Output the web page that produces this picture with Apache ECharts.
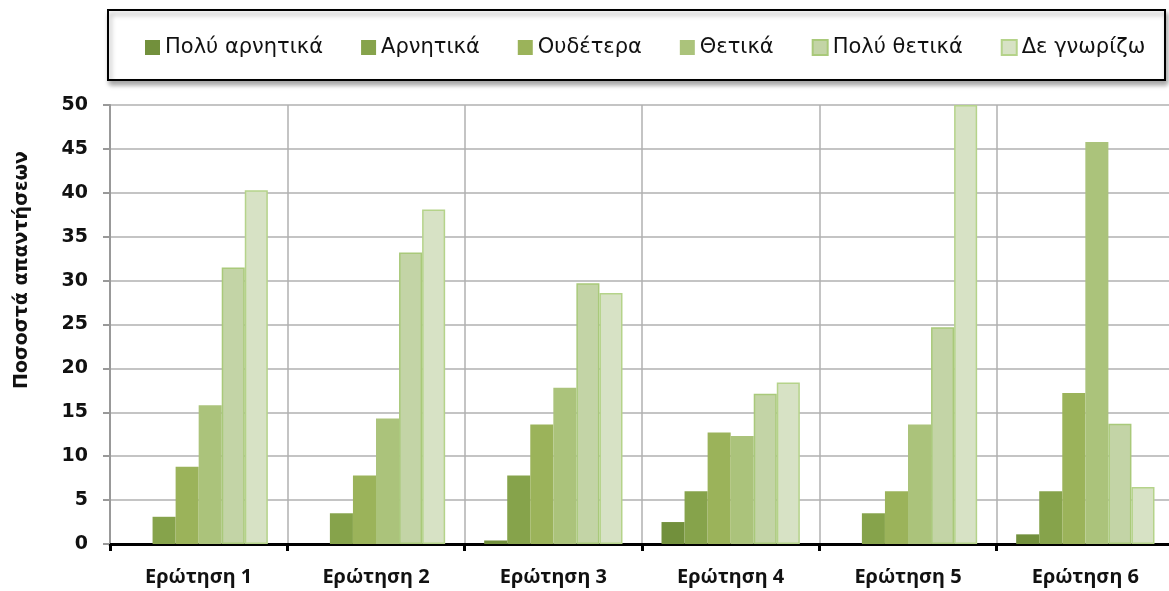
<!DOCTYPE html>
<html>
<head>
<meta charset="utf-8">
<script src="https://cdn.jsdelivr.net/npm/echarts@6/dist/echarts.min.js"></script>
<style>
  html, body { margin: 0; padding: 0; background: #fff; }
  #chart { width: 1169px; height: 591px; }
</style>
</head>
<body>
<div id="chart"></div>
<script>
// κατηγορίες και τιμές (ποσοστά)
const questions = ['Ερώτηση 1', 'Ερώτηση 2', 'Ερώτηση 3', 'Ερώτηση 4', 'Ερώτηση 5', 'Ερώτηση 6']
const seriesNames = ['Πολύ αρνητικά', 'Αρνητικά', 'Ουδέτερα', 'Θετικά', 'Πολύ θετικά', 'Δε γνωρίζω']
const veryNegative = [0, 0, 0.4, 2.5, 0, 1.1]
const negative = [3.1, 3.5, 7.8, 6.0, 3.5, 6.0]
const neutral = [8.8, 7.8, 13.6, 12.7, 6.0, 17.2]
const positive = [15.8, 14.3, 17.8, 12.3, 13.6, 45.8]
const veryPositive = [31.5, 33.2, 29.7, 17.1, 24.7, 13.7]
const dontKnow = [40.3, 38.1, 28.6, 18.4, 50, 6.5]
const yTicks = [0, 5, 10, 15, 20, 25, 30, 35, 40, 45, 50]

const allValues = [veryNegative, negative, neutral, positive, veryPositive, dontKnow]
const fills = ['#72903c', '#86a34b', '#9bb35a', '#abc37b', '#c3d4a6', '#d7e2c5']
const borders = ['#72903c', '#86a34b', '#9bb35a', '#a3c070', '#a9c97a', '#b5d38a']

const chart = echarts.init(document.getElementById('chart'))

const series = seriesNames.map((name, i) => ({
  name: name,
  type: 'bar',
  data: allValues[i],
  barGap: 0,
  barCategoryGap: '22%',
  itemStyle: {
    color: fills[i],
    borderColor: borders[i],
    borderWidth: i >= 4 ? 1.5 : 0
  }
}))

chart.setOption({
  animation: false,
  textStyle: { fontFamily: 'Noto Sans' },
  graphic: [
    // πλαίσιο υπομνήματος με σκιά
    {
      type: 'rect',
      z: 0,
      shape: { x: 108, y: 10, width: 1057, height: 70 },
      style: {
        fill: '#fff',
        stroke: '#000',
        lineWidth: 2,
        shadowColor: 'rgba(0,0,0,0.35)',
        shadowBlur: 5,
        shadowOffsetX: 2,
        shadowOffsetY: 4
      }
    },
    // τίτλος άξονα y
    {
      type: 'text',
      z: 5,
      x: 22,
      y: 270,
      rotation: Math.PI / 2,
      style: {
        text: 'Ποσοστά απαντήσεων',
        font: 'bold 19px "DejaVu Sans"',
        fill: '#111',
        align: 'center',
        verticalAlign: 'middle'
      }
    }
  ],
  legend: {
    left: 145,
    top: 37,
    itemWidth: 15,
    itemHeight: 15,
    itemGap: 38,
    icon: 'rect',
    padding: 0,
    textStyle: { fontSize: 21, color: '#111', fontFamily: 'DejaVu Sans' },
    data: seriesNames
  },
  grid: {
    left: 110,
    width: 1064,
    top: 105,
    bottom: 47,
    outerBoundsMode: 'none'
  },
  xAxis: {
    type: 'category',
    data: questions,
    axisLine: { lineStyle: { color: '#000', width: 3 } },
    axisTick: { show: true, length: 7, lineStyle: { color: '#000', width: 3 } },
    axisLabel: { fontSize: 20, fontWeight: 'bold', color: '#111', margin: 23 },
    splitLine: { show: true, lineStyle: { color: '#b0b0b0', width: 1.5 } }
  },
  yAxis: {
    type: 'value',
    min: yTicks[0],
    max: yTicks[yTicks.length - 1],
    interval: 5,
    axisLine: { show: true, lineStyle: { color: '#999', width: 2 } },
    axisTick: { show: true, length: 7, lineStyle: { color: '#999', width: 2 } },
    axisLabel: { fontSize: 19, fontWeight: 'bold', color: '#111', margin: 22, fontFamily: 'DejaVu Sans' },
    splitLine: { show: true, lineStyle: { color: '#b0b0b0', width: 1.5 } }
  },
  series: series
})
</script>
</body>
</html>
